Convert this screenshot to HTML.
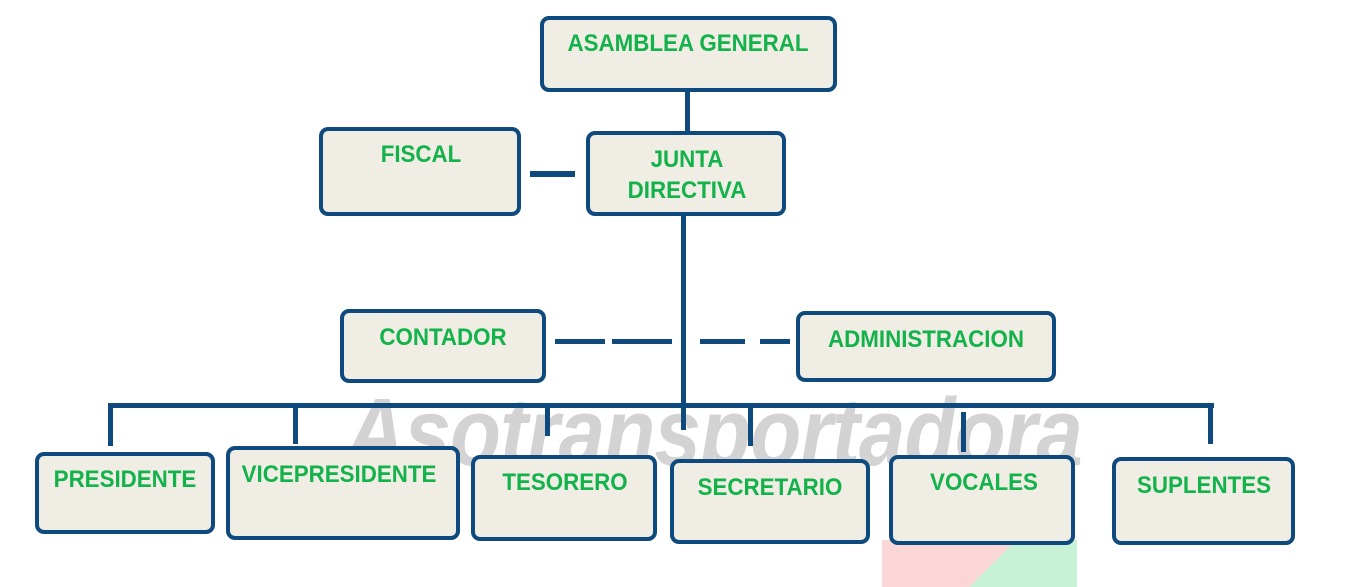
<!DOCTYPE html>
<html><head><meta charset="utf-8"><style>
body{margin:0;width:1350px;height:587px;background:#fff;position:relative;overflow:hidden;font-family:"Liberation Sans",sans-serif}
.b{position:absolute;box-sizing:border-box;border:4px solid #0f4a7e;border-radius:9px;background:#efede4}
.l{position:absolute;background:#0f4a7e}
.t{position:absolute;color:#13b24b;font-weight:bold;font-size:24px;line-height:28px;white-space:nowrap;transform:translate(-50%,-50%) scaleX(.93);text-align:center}
.wm{position:absolute;left:345px;top:378px;font-size:96px;font-weight:bold;font-style:italic;color:#d3d3d3;letter-spacing:-1px;white-space:nowrap;transform:scaleX(.87);transform-origin:left}
</style></head><body>
<div class="wm">Asotransportadora</div>
<div style="position:absolute;left:882px;top:540px;width:195px;height:47px;background:linear-gradient(135deg,#fbd6d6 55%,#c8f2d6 56%)"></div>

<div class="l" style="left:685px;top:92px;width:5px;height:40px"></div>
<div class="l" style="left:530px;top:171px;width:45px;height:6px"></div>
<div class="l" style="left:681px;top:216px;width:5px;height:214px"></div>
<div class="l" style="left:555px;top:339px;width:50px;height:5px"></div>
<div class="l" style="left:612px;top:339px;width:60px;height:5px"></div>
<div class="l" style="left:700px;top:339px;width:45px;height:5px"></div>
<div class="l" style="left:760px;top:339px;width:30px;height:5px"></div>
<div class="l" style="left:108px;top:403px;width:1106px;height:5px"></div>
<div class="l" style="left:108px;top:403px;width:5px;height:43px"></div>
<div class="l" style="left:293px;top:403px;width:5px;height:41px"></div>
<div class="l" style="left:545px;top:403px;width:5px;height:33px"></div>
<div class="l" style="left:748px;top:403px;width:5px;height:43px"></div>
<div class="l" style="left:961px;top:412px;width:5px;height:40px"></div>
<div class="l" style="left:1208px;top:403px;width:5px;height:41px"></div>

<div class="b" style="left:540px;top:16px;width:297px;height:76px"></div>
<div class="b" style="left:319px;top:127px;width:202px;height:89px"></div>
<div class="b" style="left:586px;top:131px;width:200px;height:85px"></div>
<div class="b" style="left:340px;top:309px;width:206px;height:74px"></div>
<div class="b" style="left:796px;top:311px;width:260px;height:71px"></div>
<div class="b" style="left:35px;top:452px;width:180px;height:82px"></div>
<div class="b" style="left:226px;top:446px;width:234px;height:94px"></div>
<div class="b" style="left:471px;top:455px;width:186px;height:86px"></div>
<div class="b" style="left:670px;top:459px;width:200px;height:85px"></div>
<div class="b" style="left:889px;top:455px;width:186px;height:90px"></div>
<div class="b" style="left:1112px;top:457px;width:183px;height:88px"></div>

<div class="t" style="left:688px;top:44px">ASAMBLEA GENERAL</div>
<div class="t" style="left:421px;top:155px">FISCAL</div>
<div class="t" style="left:687px;top:160px">JUNTA</div>
<div class="t" style="left:687px;top:191px">DIRECTIVA</div>
<div class="t" style="left:443px;top:338px">CONTADOR</div>
<div class="t" style="left:926px;top:340px">ADMINISTRACION</div>
<div class="t" style="left:125px;top:480px">PRESIDENTE</div>
<div class="t" style="left:339px;top:475px">VICEPRESIDENTE</div>
<div class="t" style="left:565px;top:483px">TESORERO</div>
<div class="t" style="left:770px;top:488px">SECRETARIO</div>
<div class="t" style="left:984px;top:483px">VOCALES</div>
<div class="t" style="left:1204px;top:486px">SUPLENTES</div>
</body></html>
